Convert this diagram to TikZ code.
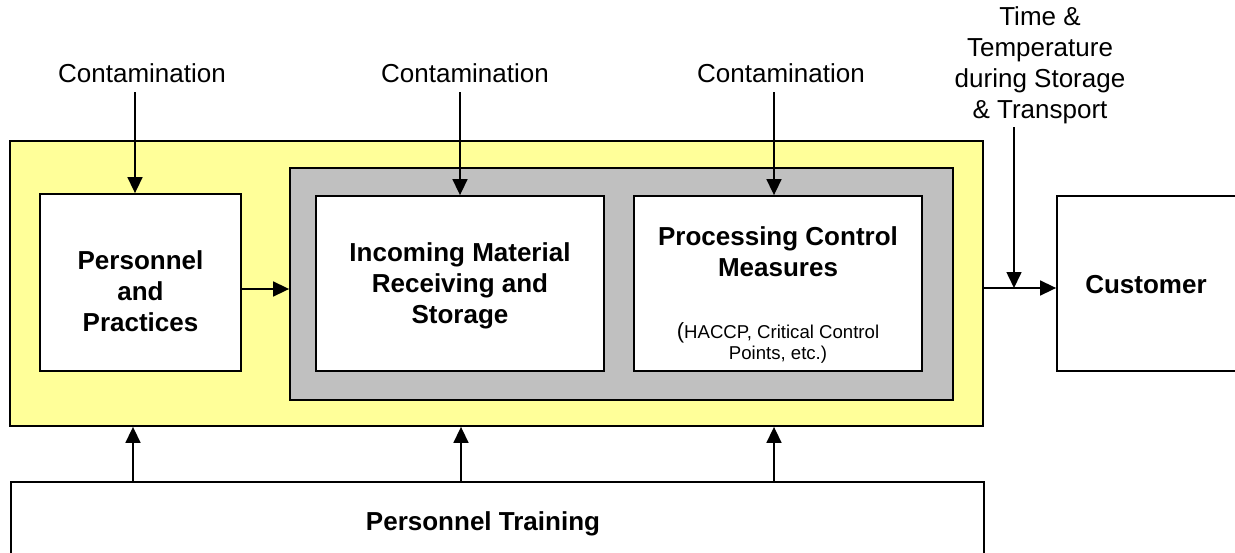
\documentclass[tikz,border=0pt]{standalone}
\usepackage{fontspec}
\setmainfont{Liberation Sans}
\usetikzlibrary{arrows.meta}
\definecolor{yel}{HTML}{FFFF99}
\definecolor{gry}{HTML}{C0C0C0}
\tikzset{
  box/.style={draw=black, line width=1.8pt, inner sep=0pt, rectangle},
  lbl/.style={font=\fontsize{26}{31}\selectfont, align=center, inner sep=0pt},
  btxt/.style={font=\bfseries\fontsize{26}{31}\selectfont, align=center, inner sep=0pt},
  stxt/.style={font=\fontsize{18.6}{21}\selectfont, align=center, inner sep=0pt},
  arr/.style={line width=1.6pt, -{Triangle[length=16pt,width=15pt]}}
}
\begin{document}
\begin{tikzpicture}[x=1pt,y=-1pt]
\useasboundingbox (0,0) rectangle (1235,552);
% boxes
\node[box, fill=yel, minimum width=973, minimum height=285] (yel) at (496.5,283.5) {};
\node[box, fill=gry, minimum width=663, minimum height=232] (gray) at (621.5,284) {};
\node[box, fill=white, minimum width=201, minimum height=177] (pers) at (140.5,282.5) {};
\node[box, fill=white, minimum width=288, minimum height=175] (inc) at (460,283.5) {};
\node[box, fill=white, minimum width=288, minimum height=175] (proc) at (778,283.5) {};
\node[box, fill=white, minimum width=183, minimum height=175] (cust) at (1148.5,283.5) {};
\node[box, fill=white, minimum width=973, minimum height=83] (train) at (497.5,523.5) {};
% texts
\node[btxt] (perst) at (140.5,291) {Personnel\\and\\Practices};
\node[btxt] (inct) at (460,286) {Incoming Material\\Receiving and\\Storage};
\node[btxt] (proct) at (778,252) {Processing Control\\Measures};
\node[stxt] (haccp) at (778,343) {{\fontsize{22}{21}\selectfont(}HACCP, Critical Control\\Points, etc.)};
\node[btxt] (custt) at (1146,285) {Customer};
\node[btxt] (traint) at (483,524) {Personnel Training};
\node[lbl] (c1) at (142,73) {Contamination};
\node[lbl] (c2) at (465,73) {Contamination};
\node[lbl] (c3) at (781,73) {Contamination};
\node[lbl] (time) at (1040,65) {Time \&\\Temperature\\during Storage\\\& Transport};
% arrows
\coordinate (a1) at (135,92);
\coordinate (a2) at (460,92);
\coordinate (a3) at (774,92);
\coordinate (a4) at (1014,127);
\coordinate (m1) at (0,289);
\coordinate (m2) at (0,288);
\draw[arr] (a1) -- (a1 |- pers.north);
\draw[arr] (a2) -- (a2 |- inc.north);
\draw[arr] (a3) -- (a3 |- proc.north);
\draw[arr] (pers.east |- m1) -- (gray.west |- m1);
\draw[arr] (yel.east |- m2) -- (cust.west |- m2);
\coordinate (j) at (a4 |- m2);
\draw[arr] (a4) -- (j);
\coordinate (u1) at (133,0);
\coordinate (u2) at (461,0);
\coordinate (u3) at (774,0);
\draw[arr] (u1 |- train.north) -- (u1 |- yel.south);
\draw[arr] (u2 |- train.north) -- (u2 |- yel.south);
\draw[arr] (u3 |- train.north) -- (u3 |- yel.south);
\end{tikzpicture}
\end{document}
